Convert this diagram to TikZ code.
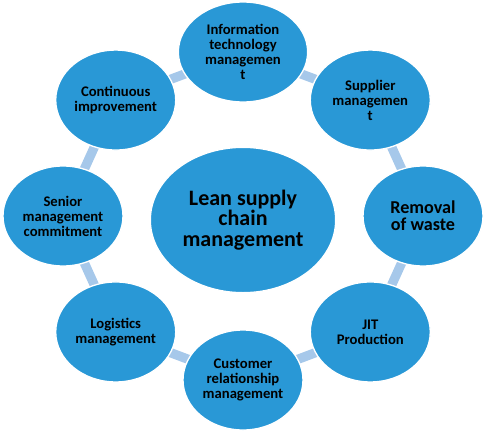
\documentclass[tikz,border=0pt]{standalone}
\usepackage{fontspec}
\setmainfont{Carlito}
\usetikzlibrary{shapes.geometric,backgrounds}
\definecolor{leanblue}{RGB}{41,152,214}
\definecolor{linkblue}{RGB}{166,200,234}
\tikzset{
  outer/.style={ellipse, fill=leanblue, draw=white, line width=1pt, inner sep=0pt,
    minimum width=90pt, minimum height=75pt, align=center,
    font=\bfseries\fontsize{11}{11.3}\selectfont},
  wideouter/.style={outer, minimum width=97pt},
  bigouter/.style={outer, font=\bfseries\fontsize{13.6}{12.6}\selectfont},
  hub/.style={outer, minimum width=139pt, minimum height=109pt,
    font=\bfseries\fontsize{16.5}{15.4}\selectfont},
  link/.style={linkblue, line width=7pt}
}

\begin{document}
\begin{tikzpicture}[x=0.75pt,y=0.75pt]
    \useasboundingbox (0,0) rectangle (484,430);
    \foreach \ang/\name/\sty/\txt in {
        90/it/wideouter/{Information\\technology\\managemen\\t},
        45/sup/outer/{Supplier\\managemen\\t},
        0/waste/bigouter/{Removal\\of waste},
        -45/jit/outer/{JIT\\Production},
        -90/crm/outer/{Customer\\relationship\\management},
        -135/logi/outer/{Logistics\\management},
        180/senior/outer/{Senior\\management\\commitment},
        135/cont/outer/{Continuous\\improvement}}
        \node[\sty] (\name) at ({243+180*cos(\ang)},{214+164*sin(\ang)}) {\txt};
    \node[hub] (lean) at (243,210) {Lean supply\\chain\\management};
    % links between neighbours
    \begin{scope}[on background layer]
        \foreach \a/\b in {it/sup, sup/waste, waste/jit, jit/crm, crm/logi, logi/senior, senior/cont, cont/it}
            \draw[link] (\a.center) -- (\b.center);
    \end{scope}
\end{tikzpicture}
\end{document}
